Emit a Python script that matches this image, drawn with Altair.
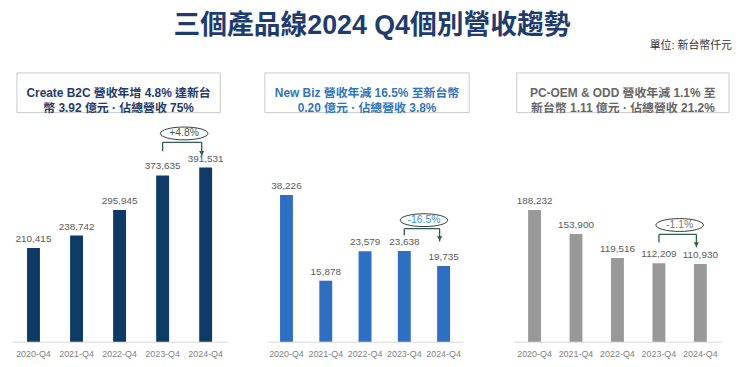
import altair as alt
import pandas as pd

# ---------------- data ----------------
periods = ["2020-Q4", "2021-Q4", "2022-Q4", "2023-Q4", "2024-Q4"]
b2c_values = [210415, 238742, 295945, 373635, 391531]
newbiz_values = [38226, 15878, 23579, 23638, 19735]
pcoem_values = [188232, 153900, 119516, 112209, 110930]

header_b2c = ["Create B2C 營收年增 4.8% 達新台", "幣 3.92 億元 · 佔總營收 75%"]
header_newbiz = ["New Biz 營收年減 16.5% 至新台幣", "0.20 億元 · 佔總營收 3.8%"]
header_pcoem = ["PC-OEM & ODD 營收年減 1.1% 至", "新台幣 1.11 億元 · 佔總營收 21.2%"]

change_labels = ["+4.8%", "-16.5%", "-1.1%"]

title_text = "三個產品線2024 Q4個別營收趨勢"
unit_text = "單位: 新台幣仟元"

FONT = "Liberation Sans, Noto Sans CJK TC, sans-serif"
H = 271


def panel(values, y_max, width, rng, box, header, header_color, bar_color,
          ann_y, change, change_color, subtitle=False):
    df = pd.DataFrame({"period": periods, "value": values,
                       "label": [f"{v:,}" for v in values]})
    step = (rng[1] - rng[0]) / len(periods)
    xs = alt.Scale(domain=periods, range=rng, paddingInner=0.1, paddingOuter=0.05)
    ys = alt.Scale(domain=[0, y_max])
    xaxis = alt.Axis(title=None, labelAngle=0, ticks=False, tickSize=0,
                     domainColor="#d9d9d9", labelColor="#7f7f7f",
                     labelFontSize=9, labelFont=FONT, labelPadding=8)

    def X(f):
        return alt.X(f, sort=periods, scale=xs, axis=xaxis, title=None)

    def Y(f):
        return alt.Y(f, scale=ys, axis=None)

    base = alt.Chart(df)
    bars = base.mark_bar(size=13, color=bar_color).encode(x=X("period:N"), y=Y("value:Q"))
    labels = base.mark_text(baseline="bottom", dy=-4, fontSize=10, font=FONT,
                            color="#595959").encode(
        x=X("period:N"), y=Y("value:Q"), text="label:N")

    one = alt.Chart(alt.Data(values=[{}]))
    box_rect = one.mark_rect(fill="white", stroke="#c9c9c9", strokeWidth=1).encode(
        x=alt.value(box[0]), x2=alt.value(box[1]), y=alt.value(0), y2=alt.value(40))
    box_text = one.mark_text(fontSize=12, fontWeight="bold", font=FONT,
                             color=header_color, lineHeight=15,
                             baseline="middle", align="center").encode(
        x=alt.value((box[0] + box[1]) / 2), y=alt.value(20),
        text=alt.value(header))

    ann = pd.DataFrame({"x1": [periods[3]], "x2": [periods[4]],
                        "yh": [ann_y[0]], "yl": [ann_y[1]], "yt": [ann_y[2]],
                        "ye": [ann_y[3]], "t": [change]})
    ac = alt.Chart(ann)
    green = "#2d5e4c"
    hline = ac.mark_rule(color=green, strokeWidth=1.3, x2Offset=-4).encode(
        x=X("x1:N"), x2="x2:N", y=Y("yh:Q"))
    lleg = ac.mark_rule(color=green, strokeWidth=1.3).encode(
        x=X("x1:N"), y=Y("yh:Q"), y2="yl:Q")
    rleg = ac.mark_rule(color=green, strokeWidth=1.3, xOffset=-4).encode(
        x=X("x2:N"), y=Y("yh:Q"), y2="yt:Q")
    head = ac.mark_point(shape="triangle-down", filled=True, size=28, opacity=1,
                         color=green, xOffset=-4, yOffset=-3).encode(
        x=X("x2:N"), y=Y("yt:Q"))
    ellipse = ac.mark_point(shape="M-1,0A1,0.27,0,1,1,1,0A1,0.27,0,1,1,-1,0Z",
                            size=2300, filled=False, opacity=1, stroke="#3a3a3a",
                            strokeWidth=1, xOffset=step / 2).encode(
        x=X("x1:N"), y=Y("ye:Q"))
    etext = ac.mark_text(fontSize=10.5, font=FONT, color=change_color,
                         xOffset=step / 2).encode(
        x=X("x1:N"), y=Y("ye:Q"), text="t:N")

    layers = [box_rect, box_text, bars, labels, hline, lleg, rleg, head, ellipse, etext]
    if subtitle:
        sub = one.mark_text(fontSize=11, font=FONT, color="#333333", align="right",
                            baseline="middle").encode(
            x=alt.value(width + 3), y=alt.value(-27), text=alt.value(unit_text))
        layers.append(sub)
    return alt.layer(*layers).properties(width=width, height=H)


p1 = panel(b2c_values, 604000, 217, [0, 217], [5, 210], header_b2c, "#1f3b6a",
           "#0f3a66", [448000, 428000, 416700, 468000], change_labels[0], "#3d5a4a")
p2 = panel(newbiz_values, 70000, 219, [10, 208], [8, 214], header_newbiz, "#2e75c0",
           "#2e6fc2", [29450, 27640, 26090, 31650], change_labels[1], "#3a8fd6")
p3 = panel(pcoem_values, 384000, 227, [10, 219], [13, 227], header_pcoem, "#666666",
           "#999999", [153200, 141800, 134750, 166700], change_labels[2], "#777777",
           subtitle=True)

chart = alt.hconcat(p1, p2, p3, spacing=30).properties(
    title=alt.TitleParams(title_text, anchor="middle", fontSize=27, fontWeight="bold",
                          font=FONT, color="#1f3c6e", offset=0),
    padding={"left": 4, "top": 3, "right": 0, "bottom": 0},
).configure_view(strokeWidth=0)

chart.save("out.html", embed_options={"renderer": "svg", "actions": False})
